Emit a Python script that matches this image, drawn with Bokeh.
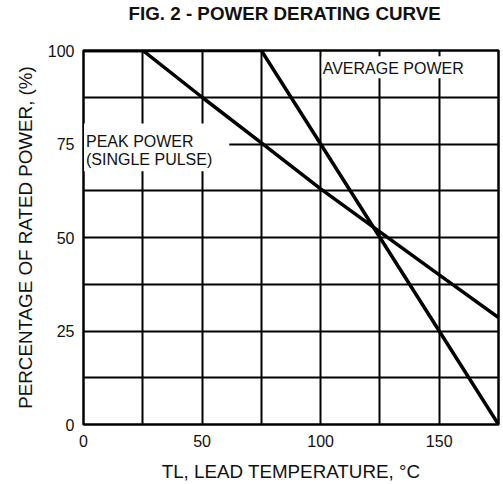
from bokeh.plotting import figure
from bokeh.models import Range1d, FixedTicker, Label
from bokeh.embed import file_html
from bokeh.resources import INLINE

# ---- data ----
temperature = [0, 25, 50, 75, 100, 125, 150, 175]
peak_power = [100, 100, 87.5, 75.3, 63, 51.5, 40, 28.6]
average_power = [100, 100, 100, 100, 75, 50, 25, 0]
x_ticks = [0, 50, 100, 150]
y_ticks = [0, 25, 50, 75, 100]
x_grid = [0, 25, 50, 75, 100, 125, 150, 175]
y_grid = [0, 12.5, 25, 37.5, 50, 62.5, 75, 87.5, 100]
title = "FIG. 2 - POWER DERATING CURVE"
x_label = "TL, LEAD TEMPERATURE, °C"
y_label = "PERCENTAGE OF RATED POWER, (%)"
peak_label = "PEAK POWER\n(SINGLE PULSE)"
avg_label = "AVERAGE POWER"

FONT = "Liberation Sans"

p = figure(width=503, height=484, output_backend="svg", toolbar_location=None,
           x_range=Range1d(0, 175), y_range=Range1d(0, 100),
           min_border_left=83, min_border_right=5, min_border_top=50, min_border_bottom=60)

# a trailing empty line keeps the title near the top edge of the canvas
p.title.text = title + "\n"
p.title.align = "left"
p.title.offset = 45
p.title.vertical_align = "top"
p.title.text_font = FONT
p.title.text_font_size = "18.8px"
p.title.text_font_style = "bold"
p.title.text_color = "#111111"
p.title.text_line_height = 1.15
p.title.standoff = 2

p.outline_line_color = "black"
p.outline_line_width = 2.5
p.outline_line_alpha = 1

for ax in (p.xaxis[0], p.yaxis[0]):
    ax.axis_line_color = None
    ax.major_tick_line_color = None
    ax.minor_tick_line_color = None
    ax.major_tick_out = 0
    ax.major_tick_in = 0
    ax.minor_tick_out = 0
    ax.minor_tick_in = 0
    ax.major_label_text_font = FONT
    ax.major_label_text_font_size = "16px"
    ax.major_label_text_color = "#111111"
    ax.axis_label_text_font = FONT
    ax.axis_label_text_font_size = "18.8px"
    ax.axis_label_text_font_style = "normal"
    ax.axis_label_text_color = "#111111"

p.xaxis.major_label_standoff = 10
p.yaxis.major_label_standoff = 9
p.xaxis.ticker = FixedTicker(ticks=x_ticks)
p.yaxis.ticker = FixedTicker(ticks=y_ticks)
p.xaxis.axis_label = x_label
p.yaxis.axis_label = y_label
p.xaxis.axis_label_standoff = 11
p.yaxis.axis_label_standoff = 9

p.xgrid.ticker = FixedTicker(ticks=x_grid)
p.ygrid.ticker = FixedTicker(ticks=y_grid)
for g in (p.xgrid[0], p.ygrid[0]):
    g.grid_line_color = "black"
    g.grid_line_width = 2
    g.grid_line_alpha = 1

p.background_fill_color = "white"
p.border_fill_color = "white"

p.line(temperature, peak_power, line_color="black", line_width=3.5)
p.line(temperature, average_power, line_color="black", line_width=3.5)

p.add_layout(Label(x=0, y=80.5, x_units="data", y_units="data", text=peak_label,
                   anchor="top_left", x_offset=0.5,
                   text_font=FONT, text_font_size="16px", text_color="#111111",
                   background_fill_color="white", padding=(2, 17, 10, 3),
                   text_line_height=1.05))
p.add_layout(Label(x=100, y=98.45, x_units="data", y_units="data", text=avg_label,
                   anchor="top_left", x_offset=1,
                   text_font=FONT, text_font_size="16px", text_color="#111111",
                   background_fill_color="white", padding=(1, 6, 4, 1)))

open("out.html", "w").write(file_html(p, INLINE))
